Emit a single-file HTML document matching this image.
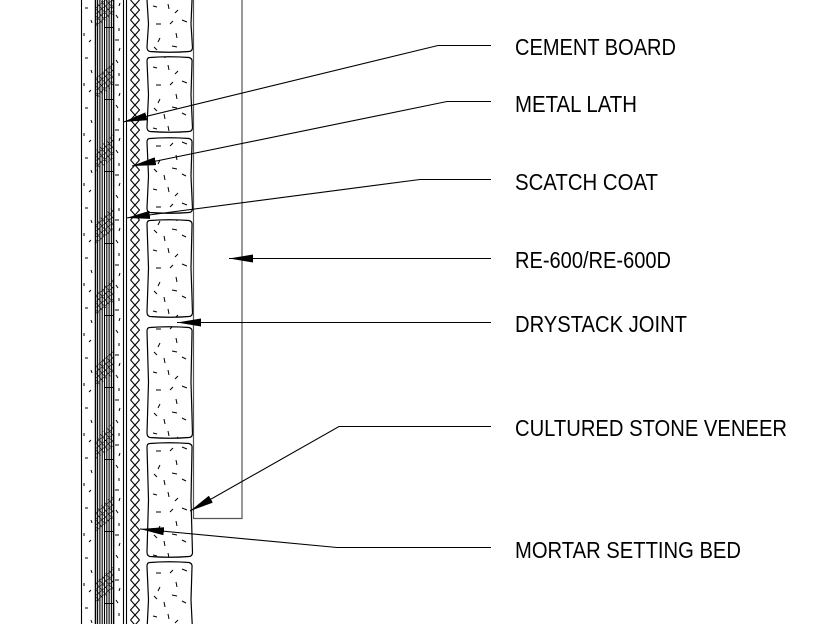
<!DOCTYPE html>
<html>
<head>
<meta charset="utf-8">
<style>
  html,body{margin:0;padding:0;background:#fff;}
  svg{display:block;}
  text{font-family:"Liberation Sans", Arial, sans-serif;font-size:23px;fill:#000;}
</style>
</head>
<body>
<svg width="822" height="624" viewBox="0 0 822 624" xmlns="http://www.w3.org/2000/svg">
  <defs>
    <marker id="ah" markerUnits="userSpaceOnUse" markerWidth="24" markerHeight="8" refX="24" refY="4" orient="auto" viewBox="0 0 24 8">
      <path d="M0,0 L24,4 L0,8 Z" fill="#000"/>
    </marker>
    <pattern id="grid" patternUnits="userSpaceOnUse" width="4.5" height="4.5" patternTransform="rotate(-40)">
      <path d="M0,0 L4.5,0 M0,0 L0,4.5" stroke="#000" stroke-width="1.1" fill="none"/>
    </pattern>
    <pattern id="spk" patternUnits="userSpaceOnUse" x="148" y="0" width="42" height="61">
      <path d="M5,6 l4,1 M20,4 l1,5 M30,10 l-3,3 M34,20 l5,2 M8,24 l5,0 M22,24 l3,-3 M28,33 l1,5 M12,38 l-2,4 M6,47 l3,3 M24,46 l5,1 M16,53 l1,5 M34,52 l4,2" stroke="#000" stroke-width="1" fill="none"/>
    </pattern>
    <pattern id="spkL" patternUnits="userSpaceOnUse" x="82" y="0" width="13" height="50">
      <path d="M3,8 l3,0 M9,20 l1,3 M2,33 l0,3 M7,42 l2,-2" stroke="#000" stroke-width="1" fill="none"/>
    </pattern>
    <pattern id="spkR" patternUnits="userSpaceOnUse" x="114" y="10" width="9" height="45">
      <path d="M2,5 l2,3 M5,18 l0,3 M1,30 l4,0 M6,38 l-1,3" stroke="#000" stroke-width="1" fill="none"/>
    </pattern>
    <pattern id="xz" patternUnits="userSpaceOnUse" x="130" y="0" width="10" height="20">
      <path d="M0.5,0 L9.5,10 L0.5,20 M9.5,0 L0.5,10 L9.5,20" stroke="#000" stroke-width="1.1" fill="none"/>
    </pattern>
  </defs>

  <!-- speckle bands -->
  <rect x="82" y="0" width="13" height="624" fill="url(#spkL)"/>
  <rect x="114" y="0" width="9" height="624" fill="url(#spkR)"/>

  <!-- hatch blocks -->
  <g>
    <polygon points="95,7 113.5,-10 113.5,14 95,28" fill="url(#grid)"/>
    <polygon points="95,79 113.5,62 113.5,86 95,100" fill="url(#grid)"/>
    <polygon points="95,151 113.5,134 113.5,158 95,172" fill="url(#grid)"/>
    <polygon points="95,223 113.5,206 113.5,230 95,244" fill="url(#grid)"/>
    <polygon points="95,295 113.5,278 113.5,302 95,316" fill="url(#grid)"/>
    <polygon points="95,367 113.5,350 113.5,374 95,388" fill="url(#grid)"/>
    <polygon points="95,439 113.5,422 113.5,446 95,460" fill="url(#grid)"/>
    <polygon points="95,511 113.5,494 113.5,518 95,532" fill="url(#grid)"/>
    <polygon points="95,583 113.5,566 113.5,590 95,604" fill="url(#grid)"/>
  </g>
  <g stroke="#000" stroke-width="1">
    <line x1="104" y1="27.5" x2="114" y2="27.5"/>
    <line x1="104" y1="99.5" x2="114" y2="99.5"/>
    <line x1="104" y1="171.5" x2="114" y2="171.5"/>
    <line x1="104" y1="243.5" x2="114" y2="243.5"/>
    <line x1="104" y1="315.5" x2="114" y2="315.5"/>
    <line x1="104" y1="387.5" x2="114" y2="387.5"/>
    <line x1="104" y1="459.5" x2="114" y2="459.5"/>
    <line x1="104" y1="531.5" x2="114" y2="531.5"/>
    <line x1="104" y1="603.5" x2="114" y2="603.5"/>
  </g>

  <!-- vertical lines -->
  <g stroke="#000" stroke-width="1.1">
    <line x1="81.5" y1="0" x2="81.5" y2="624"/>
    <line x1="95.5" y1="0" x2="95.5" y2="624" stroke-width="1.5"/>
    <line x1="97.6" y1="0" x2="97.6" y2="624"/>
    <line x1="99.9" y1="0" x2="99.9" y2="624"/>
    <line x1="102.2" y1="0" x2="102.2" y2="624"/>
    <line x1="104.5" y1="0" x2="104.5" y2="624"/>
    <line x1="106.8" y1="0" x2="106.8" y2="624"/>
    <line x1="109.1" y1="0" x2="109.1" y2="624"/>
    <line x1="111.4" y1="0" x2="111.4" y2="624"/>
    <line x1="113.6" y1="0" x2="113.6" y2="624" stroke-width="1.5"/>
    <line x1="123.5" y1="0" x2="123.5" y2="624"/>
    <line x1="126.5" y1="0" x2="126.5" y2="624"/>
  </g>

  <!-- X zigzag lath -->
  <rect x="130" y="0" width="10" height="624" fill="url(#xz)"/>

  <!-- stones -->
  <g stroke="#000" stroke-width="1.2" fill="url(#spk)">
    <path d="M150,-5 Q169,-7 189,-5 Q192.5,-4 192,0 L191,24 L192.5,48 Q192,51.5 189,51.5 Q170,53 150,51.5 Q147,51 147,47 L148.5,24 L147,0 Q147,-5 150,-5 Z"/>
    <path d="M150,57.5 Q169,56 189,57.5 Q192.5,58.5 192,62 L191,95 L192.5,128 Q192,131.5 189,131.5 Q170,133 150,131.5 Q147,131 147,127 L148.5,95 L147,61 Q147,57.5 150,57.5 Z"/>
    <path d="M150,138.5 Q169,137 189,138.5 Q192.5,139.5 192,143 L191,176 L192.5,209 Q192,212.5 189,212.5 Q170,214 150,212.5 Q147,212 147,208 L148.5,176 L147,142 Q147,138.5 150,138.5 Z"/>
    <path d="M150,220.5 Q169,219 189,220.5 Q192.5,221.5 192,225 L191,268 L192.5,313 Q192,316.5 189,316.5 Q170,318 150,316.5 Q147,316 147,312 L148.5,268 L147,224 Q147,220.5 150,220.5 Z"/>
    <path d="M150,327.5 Q169,326 189,327.5 Q192.5,328.5 192,332 L191,382 L192.5,434 Q192,437.5 189,437.5 Q170,439 150,437.5 Q147,437 147,433 L148.5,382 L147,331 Q147,327.5 150,327.5 Z"/>
    <path d="M150,443.5 Q169,442 189,443.5 Q192.5,444.5 192,448 L191,500 L192.5,553 Q192,556.5 189,556.5 Q170,558 150,556.5 Q147,556 147,552 L148.5,500 L147,447 Q147,443.5 150,443.5 Z"/>
    <path d="M150,562.5 Q169,561 189,562.5 Q192.5,563.5 192,567 L191,600 L192.5,630 L147,630 L148.5,600 L147,566 Q147,562.5 150,562.5 Z"/>
  </g>

  <!-- RE-600 box -->
  <path d="M193.5,0 L193.5,518.5 L242,518.5 L242,0" fill="none" stroke="#555" stroke-width="1.2"/>

  <!-- leaders -->
  <g fill="none" stroke="#000" stroke-width="1.1">
    <polyline points="491,45.5 438,45.5 123,122" marker-end="url(#ah)"/>
    <polyline points="491,101.5 447,101.5 132,166" marker-end="url(#ah)"/>
    <polyline points="491,179.5 420,179.5 126,218" marker-end="url(#ah)"/>
    <polyline points="491,258.5 229,258.5" marker-end="url(#ah)"/>
    <polyline points="491,322.5 177,322.5" marker-end="url(#ah)"/>
    <polyline points="491,426.5 339,426.5 190,511" marker-end="url(#ah)"/>
    <polyline points="491,547.5 337,547.5 140,529" marker-end="url(#ah)"/>
  </g>

  <!-- labels -->
  <text x="515" y="55" textLength="161" lengthAdjust="spacingAndGlyphs">CEMENT BOARD</text>
  <text x="515" y="112" textLength="122" lengthAdjust="spacingAndGlyphs">METAL LATH</text>
  <text x="515" y="190" textLength="143" lengthAdjust="spacingAndGlyphs">SCATCH COAT</text>
  <text x="515" y="268" textLength="156" lengthAdjust="spacingAndGlyphs">RE-600/RE-600D</text>
  <text x="515" y="332" textLength="172" lengthAdjust="spacingAndGlyphs">DRYSTACK JOINT</text>
  <text x="515" y="436" textLength="272" lengthAdjust="spacingAndGlyphs">CULTURED STONE VENEER</text>
  <text x="515" y="558" textLength="226" lengthAdjust="spacingAndGlyphs">MORTAR SETTING BED</text>
</svg>
</body>
</html>
